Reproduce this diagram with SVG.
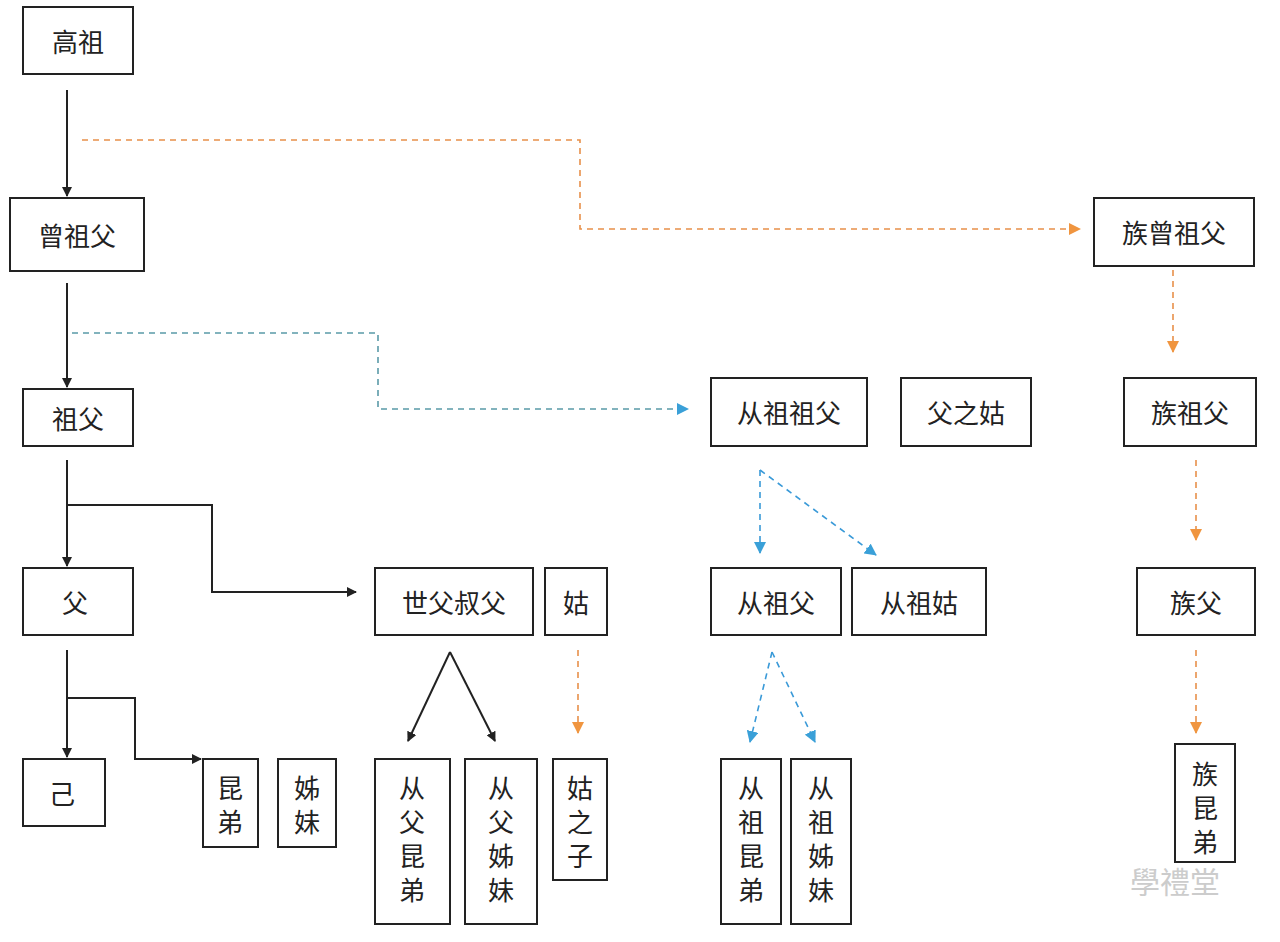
<svg xmlns="http://www.w3.org/2000/svg" width="1280" height="942" viewBox="0 0 1280 942">
<style>
rect{fill:#fff;stroke:#222;stroke-width:2}
text{font-family:"Noto Sans CJK SC",sans-serif;font-size:26px;fill:#222;text-anchor:middle;dominant-baseline:central}
.k{stroke:#222;stroke-width:2;fill:none}
.o{stroke:#e8904a;stroke-width:1.6;fill:none;stroke-dasharray:6 5}
.t{stroke:#5a9aa8;stroke-width:1.6;fill:none;stroke-dasharray:6 5}
.b{stroke:#3a9ad8;stroke-width:1.6;fill:none;stroke-dasharray:6 5}
</style>
<defs>
<marker id="ak" markerWidth="10" markerHeight="10" refX="9" refY="5" orient="auto" markerUnits="userSpaceOnUse" viewBox="0 0 10 10"><path d="M0,0L10,5L0,10z" fill="#222"/></marker>
<marker id="ao" markerWidth="12" markerHeight="12" refX="11" refY="6" orient="auto" markerUnits="userSpaceOnUse" viewBox="0 0 12 12"><path d="M0,0L12,6L0,12z" fill="#f0953f"/></marker>
<marker id="ab" markerWidth="12" markerHeight="12" refX="11" refY="6" orient="auto" markerUnits="userSpaceOnUse" viewBox="0 0 12 12"><path d="M0,0L12,6L0,12z" fill="#3aa0d8"/></marker>
</defs>
<rect x="0" y="0" width="1280" height="942" style="fill:#fff;stroke:none"/>
<g id="connectors">
<path class="k" d="M67,90V196" marker-end="url(#ak)"/>
<path class="k" d="M67,283V387" marker-end="url(#ak)"/>
<path class="k" d="M67,460V566" marker-end="url(#ak)"/>
<path class="k" d="M67,505H212V592H356" marker-end="url(#ak)"/>
<path class="k" d="M67,650V757" marker-end="url(#ak)"/>
<path class="k" d="M67,698H135V759H201" marker-end="url(#ak)"/>
<path class="k" d="M450,652L408,741" marker-end="url(#ak)"/>
<path class="k" d="M450,652L495,741" marker-end="url(#ak)"/>
<path class="o" d="M82,140H580V229H1080" marker-end="url(#ao)"/>
<path class="t" d="M72,333H378V409H688" marker-end="url(#ab)"/>
<path class="b" d="M760,470V553" marker-end="url(#ab)"/>
<path class="b" d="M760,470L876,555" marker-end="url(#ab)"/>
<path class="b" d="M772,652L750,742" marker-end="url(#ab)"/>
<path class="b" d="M772,652L815,742" marker-end="url(#ab)"/>
<path class="o" d="M578,650V733" marker-end="url(#ao)"/>
<path class="o" d="M1173,270V352" marker-end="url(#ao)"/>
<path class="o" d="M1196,460V540" marker-end="url(#ao)"/>
<path class="o" d="M1196,650V733" marker-end="url(#ao)"/>
</g>
<g id="n1"><rect x="23" y="7" width="110" height="67"/><text x="78" y="40">高祖</text></g>
<g id="n2"><rect x="10" y="198" width="134" height="73"/><text x="77" y="234">曾祖父</text></g>
<g id="n3"><rect x="23" y="389" width="110" height="57"/><text x="78" y="417">祖父</text></g>
<g id="n4"><rect x="23" y="568" width="110" height="67"/><text x="75" y="601">父</text></g>
<g id="n5"><rect x="23" y="759" width="82" height="67"/><text x="62" y="792">己</text></g>
<g id="n6"><rect x="203" y="759" width="55" height="88"/><text x="230" y="786">昆</text><text x="230" y="820">弟</text></g>
<g id="n7"><rect x="278" y="759" width="58" height="88"/><text x="307" y="786">姊</text><text x="307" y="820">妹</text></g>
<g id="n8"><rect x="375" y="568" width="158" height="67"/><text x="454" y="601">世父叔父</text></g>
<g id="n9"><rect x="545" y="568" width="62" height="67"/><text x="576" y="601">姑</text></g>
<g id="n10"><rect x="375" y="759" width="75" height="165"/><text x="412" y="786">从</text><text x="412" y="820">父</text><text x="412" y="854">昆</text><text x="412" y="888">弟</text></g>
<g id="n11"><rect x="465" y="759" width="72" height="165"/><text x="501" y="786">从</text><text x="501" y="820">父</text><text x="501" y="854">姊</text><text x="501" y="888">妹</text></g>
<g id="n12"><rect x="553" y="759" width="54" height="121"/><text x="580" y="786">姑</text><text x="580" y="820">之</text><text x="580" y="854">子</text></g>
<g id="n13"><rect x="711" y="378" width="156" height="68"/><text x="789" y="411">从祖祖父</text></g>
<g id="n14"><rect x="901" y="378" width="130" height="68"/><text x="966" y="411">父之姑</text></g>
<g id="n15"><rect x="711" y="568" width="130" height="67"/><text x="776" y="601">从祖父</text></g>
<g id="n16"><rect x="852" y="568" width="134" height="67"/><text x="919" y="601">从祖姑</text></g>
<g id="n17"><rect x="721" y="759" width="60" height="165"/><text x="751" y="786">从</text><text x="751" y="820">祖</text><text x="751" y="854">昆</text><text x="751" y="888">弟</text></g>
<g id="n18"><rect x="791" y="759" width="60" height="165"/><text x="821" y="786">从</text><text x="821" y="820">祖</text><text x="821" y="854">姊</text><text x="821" y="888">妹</text></g>
<g id="n19"><rect x="1094" y="198" width="160" height="68"/><text x="1174" y="231">族曾祖父</text></g>
<g id="n20"><rect x="1124" y="378" width="132" height="68"/><text x="1190" y="411">族祖父</text></g>
<g id="n21"><rect x="1137" y="568" width="118" height="67"/><text x="1196" y="601">族父</text></g>
<g id="n22"><rect x="1175" y="744" width="60" height="118"/><text x="1205" y="772">族</text><text x="1205" y="806">昆</text><text x="1205" y="840">弟</text></g>
<text x="1175" y="880" style="fill:#ccc;font-size:30px">學禮堂</text>
</svg>
